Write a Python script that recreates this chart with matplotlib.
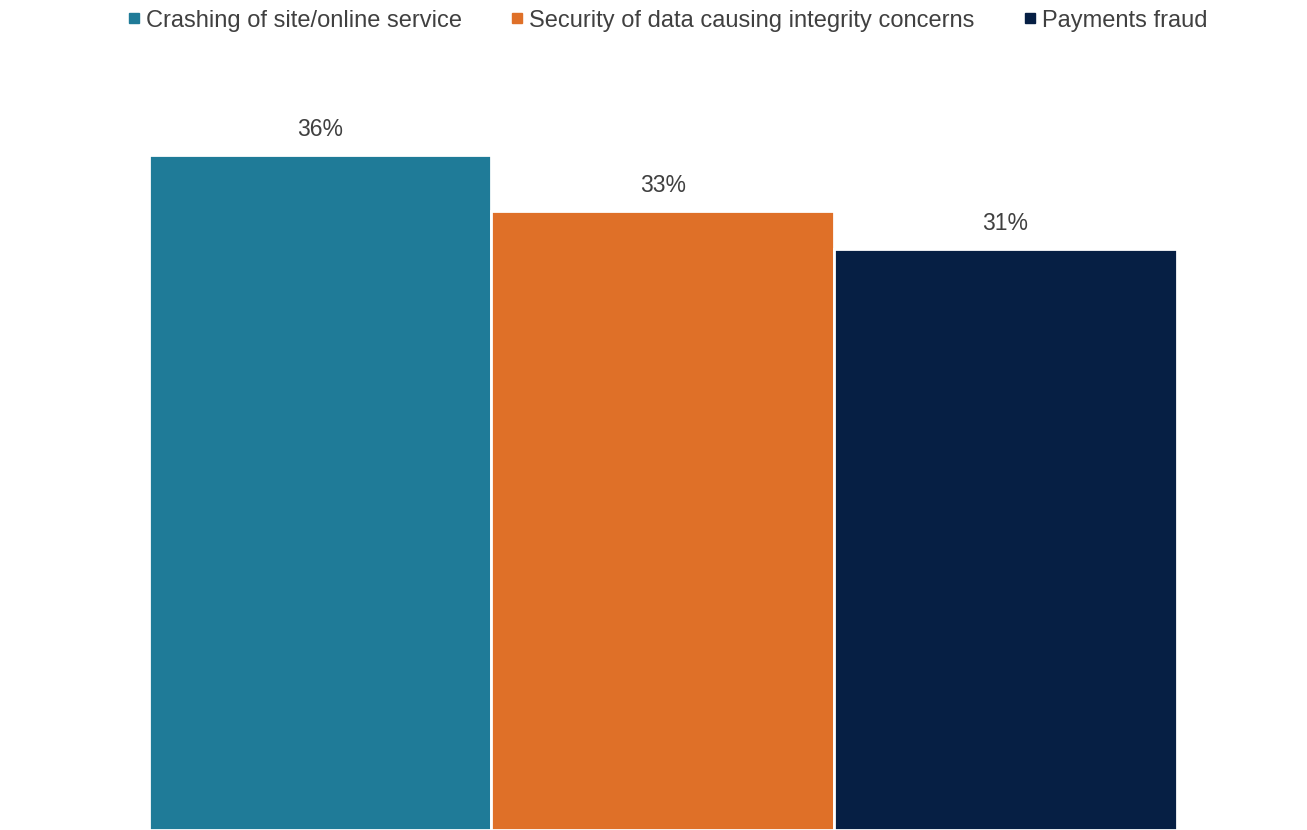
import matplotlib

matplotlib.use("Agg")
import matplotlib.pyplot as plt
from matplotlib.lines import Line2D

plt.rcParams["font.family"] = ["Liberation Sans", "DejaVu Sans"]

categories = ["Crashing of site/online service",
              "Security of data causing integrity concerns",
              "Payments fraud"]
values = [36, 33, 31]
colors = ["#1F7B98", "#DF7028", "#061F44"]
TEXT = "#404040"

fig = plt.figure(figsize=(13.07, 8.3), dpi=100)
ax = fig.add_axes([0, 0, 1, 1])

xs = range(len(values))
ax.bar(xs, values, width=1.0, color=colors, edgecolor="white", linewidth=2)
for x, v in zip(xs, values):
    ax.text(x, v + 0.75, f"{v}%", ha="center", va="bottom", fontsize=16.5, color=TEXT)

ax.set_xlim(-0.934, 2.880)
ax.set_ylim(0, 44.27)
ax.axis("off")

handles = [Line2D([], [], marker="s", linestyle="none", markersize=7,
                  markerfacecolor=c, markeredgecolor=c) for c in colors]
fig.legend(handles, categories, loc="center", bbox_to_anchor=(0.511, 0.975),
           ncol=3, frameon=False, fontsize=17, handlelength=0.45,
           handletextpad=0.3, columnspacing=2.1, labelcolor=TEXT)

fig.savefig("out.png", dpi=100)
